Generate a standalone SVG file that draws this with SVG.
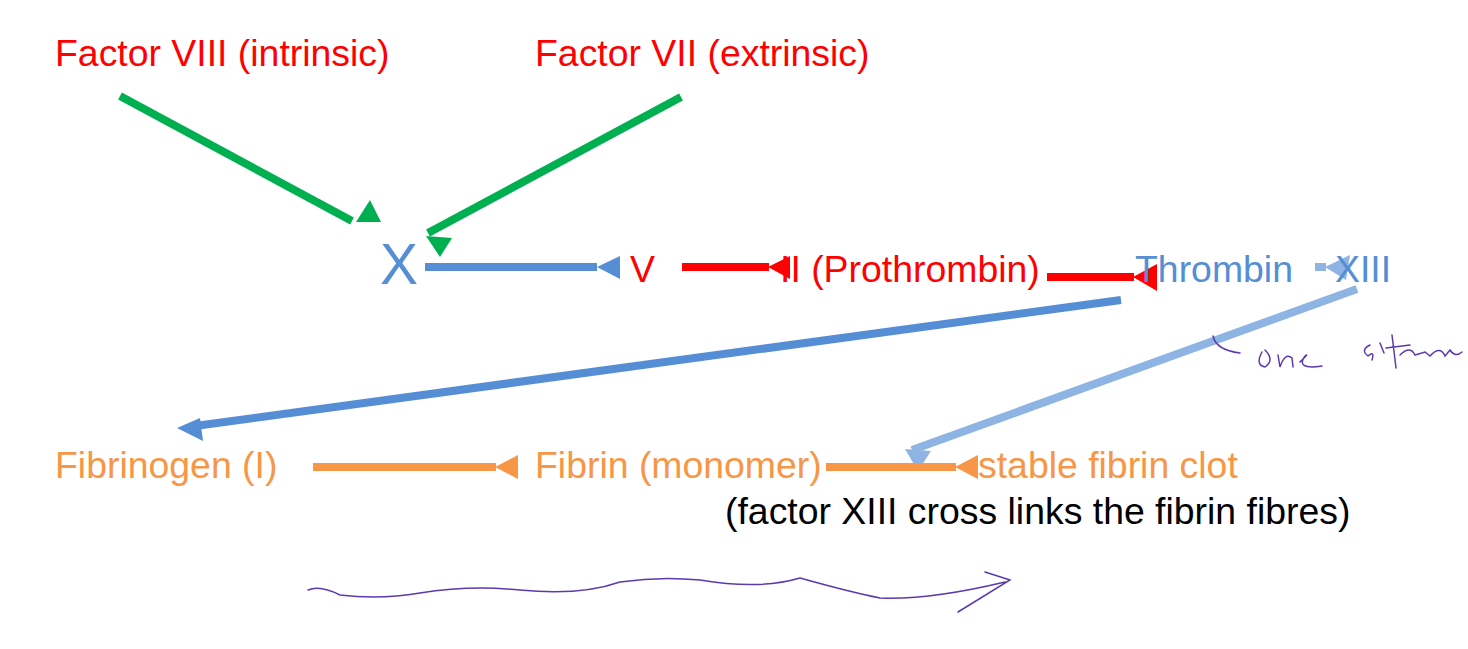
<svg xmlns="http://www.w3.org/2000/svg" width="1468" height="649" viewBox="0 0 1468 649">
<style>
text{font-family:"Liberation Sans",Arial,sans-serif;font-size:37.4px}
.r{fill:#FF0000}.b{fill:#558ED5}.o{fill:#F79646}.k{fill:#000}
.g{stroke:#00B050;stroke-width:8;fill:none}
.hw{stroke:#5B3AB0;stroke-width:1.5;fill:none;stroke-linecap:round}
</style>
<rect width="1468" height="649" fill="#fff"/>
<g id="connectors">
<line class="g" x1="120" y1="96" x2="352" y2="221"/>
<polygon fill="#00B050" points="356,222 381,222 370,200"/>
<line class="g" x1="681" y1="97" x2="428" y2="233"/>
<polygon fill="#00B050" points="426,236 452,238 440,257"/>
<line stroke="#558ED5" stroke-width="8" x1="425" y1="267" x2="597" y2="267"/>
<polygon fill="#558ED5" points="597,267 620,256 620,279"/>
<line stroke="#FF0000" stroke-width="8" x1="682" y1="267" x2="769" y2="267"/>
<polygon fill="#FF0000" points="768,267 790,256 790,279"/>
<line stroke="#FF0000" stroke-width="8" x1="1047" y1="277" x2="1134" y2="277"/>
<polygon fill="#FF0000" points="1133,277 1157,264 1157,291"/>
<line stroke="#8EB4E3" stroke-width="8" x1="1315" y1="267" x2="1326" y2="267"/>
<polygon fill="#8EB4E3" points="1325,267 1350,255 1346,280"/>
<line stroke="#558ED5" stroke-width="8" x1="1121" y1="300" x2="195" y2="426"/>
<polygon fill="#558ED5" points="177,428 200,418 203,441"/>
<line stroke="#8EB4E3" stroke-width="8" x1="1357" y1="289" x2="912" y2="450"/>
<polygon fill="#8EB4E3" points="905,449 931,451 918,471"/>
<line stroke="#F79646" stroke-width="8" x1="313" y1="467" x2="496" y2="467"/>
<polygon fill="#F79646" points="495,467 518,455 518,479"/>
<line stroke="#F79646" stroke-width="8" x1="826" y1="467" x2="956" y2="467"/>
<polygon fill="#F79646" points="955,467 978,455 978,479"/>
</g>
<g id="f8"><text class="r" x="55" y="66">Factor VIII (intrinsic)</text></g>
<g id="f7"><text class="r" x="535" y="66">Factor VII (extrinsic)</text></g>
<g id="x"><text class="b" x="380" y="284" style="font-size:57px">X</text></g>
<g id="v"><text class="r" x="630" y="282">V</text></g>
<g id="ii"><text class="r" x="780" y="282">II (Prothrombin)</text></g>
<g id="thrombin"><text class="b" x="1135" y="282">Thrombin</text></g>
<g id="xiii"><text class="b" x="1335" y="282">XIII</text></g>
<g id="fibrinogen"><text class="o" x="55" y="478">Fibrinogen (I)</text></g>
<g id="fibrin"><text class="o" x="535" y="478">Fibrin (monomer)</text></g>
<g id="clot"><text class="o" x="978" y="478">stable fibrin clot</text>
<text class="k" x="725" y="524">(factor XIII cross links the fibrin fibres)</text></g>
<g id="handwriting">
<path class="hw" d="M1213,336 Q1216,350 1240,353"/>
<path class="hw" d="M1262,352 Q1255,365 1265,367 Q1275,360 1265,350 M1278,355 L1280,367 Q1285,352 1292,358 L1293,367 M1300,362 Q1310,352 1305,356 Q1295,370 1322,366"/>
<path class="hw" d="M1370,345 Q1360,350 1368,356 Q1375,350 1372,360 M1380,343 L1384,353 M1392,335 L1396,368 M1386,348 L1410,345 M1400,355 Q1410,345 1415,355 L1425,352 L1430,356 Q1440,345 1445,356 L1450,350 Q1455,358 1462,352"/>
<path class="hw" d="M308,590 Q320,585 340,595 Q380,600 420,593 Q470,585 520,590 Q580,596 620,582 Q660,576 700,580 Q760,590 800,578 Q850,592 880,598 Q930,600 1005,582 M985,572 L1010,580 L958,612"/>
</g>
</svg>
